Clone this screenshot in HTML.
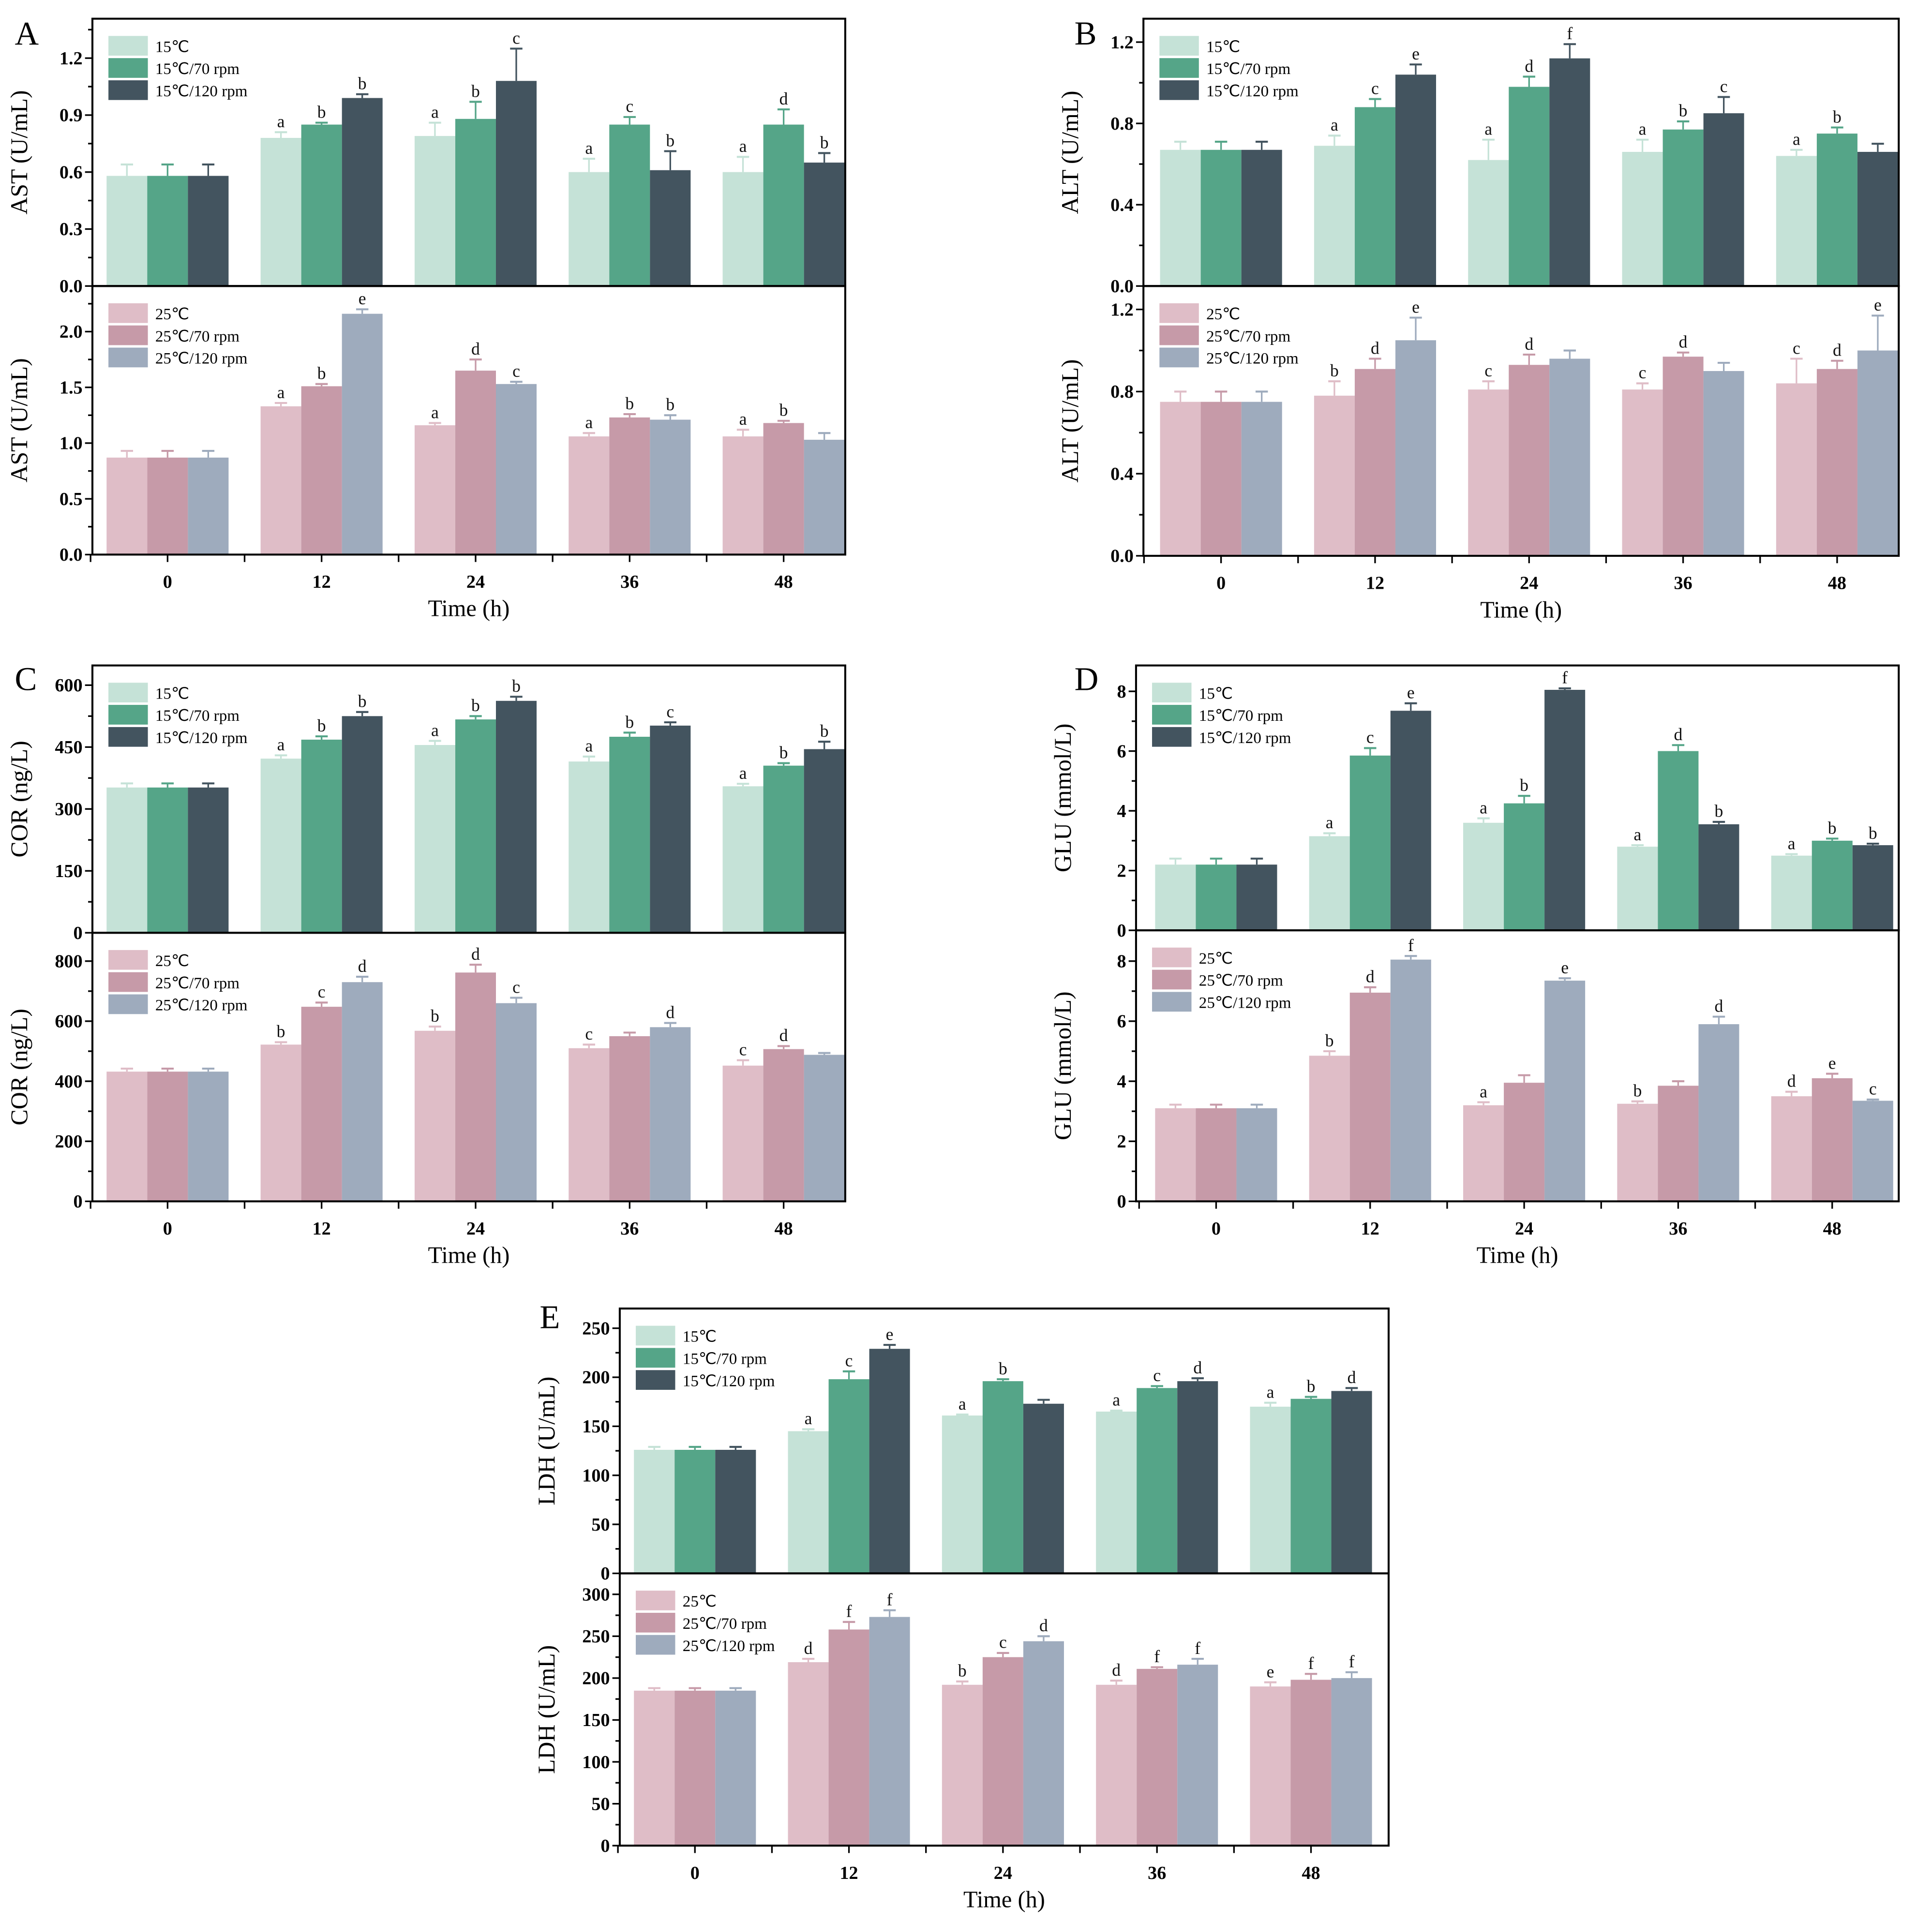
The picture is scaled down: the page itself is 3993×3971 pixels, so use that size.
<!DOCTYPE html>
<html><head><meta charset="utf-8"><style>
html,body{margin:0;padding:0;background:#fff}
svg{display:block;font-family:"Liberation Serif",serif}
</style></head><body>
<svg id="fig" width="3993" height="3971" viewBox="0 0 1568 1559" xmlns="http://www.w3.org/2000/svg"></svg>
<script>
const categories=["0","12","24","36","48"];
// A AST
const astTop15=[0.58,0.78,0.79,0.60,0.60], astTop70=[0.58,0.85,0.88,0.85,0.85], astTop120=[0.58,0.99,1.08,0.61,0.65];
const astTopErr15=[0.06,0.03,0.07,0.07,0.08], astTopErr70=[0.06,0.01,0.09,0.04,0.08], astTopErr120=[0.06,0.02,0.17,0.1,0.05];
const astTopLet=[["","",""],["a","b","b"],["a","b","c"],["a","c","b"],["a","d","b"]];
const astBot25=[0.87,1.33,1.16,1.06,1.06], astBot70=[0.87,1.51,1.65,1.23,1.18], astBot120=[0.87,2.16,1.53,1.21,1.03];
const astBotErr25=[0.06,0.03,0.02,0.03,0.06], astBotErr70=[0.06,0.02,0.1,0.03,0.02], astBotErr120=[0.06,0.04,0.02,0.04,0.06];
const astBotLet=[["","",""],["a","b","e"],["a","d","c"],["a","b","b"],["a","b",""]];
// B ALT
const altTop15=[0.67,0.69,0.62,0.66,0.64], altTop70=[0.67,0.88,0.98,0.77,0.75], altTop120=[0.67,1.04,1.12,0.85,0.66];
const altTopErr15=[0.04,0.05,0.1,0.06,0.03], altTopErr70=[0.04,0.04,0.05,0.04,0.03], altTopErr120=[0.04,0.05,0.07,0.08,0.04];
const altTopLet=[["","",""],["a","c","e"],["a","d","f"],["a","b","c"],["a","b",""]];
const altBot25=[0.75,0.78,0.81,0.81,0.84], altBot70=[0.75,0.91,0.93,0.97,0.91], altBot120=[0.75,1.05,0.96,0.90,1.00];
const altBotErr25=[0.05,0.07,0.04,0.03,0.12], altBotErr70=[0.05,0.05,0.05,0.02,0.04], altBotErr120=[0.05,0.11,0.04,0.04,0.17];
const altBotLet=[["","",""],["b","d","e"],["c","d",""],["c","d",""],["c","d","e"]];
// C COR
const corTop15=[352,422,455,415,355], corTop70=[352,468,517,475,405], corTop120=[352,525,562,502,445];
const corTopErr15=[10,8,10,12,6], corTopErr70=[10,8,8,10,6], corTopErr120=[10,10,10,8,18];
const corTopLet=[["","",""],["a","b","b"],["a","b","b"],["a","b","c"],["a","b","b"]];
const corBot25=[432,522,568,510,452], corBot70=[432,648,762,550,507], corBot120=[432,730,660,580,488];
const corBotErr25=[10,8,14,12,18], corBotErr70=[10,14,26,12,10], corBotErr120=[10,18,18,14,6];
const corBotLet=[["","",""],["b","c","d"],["b","d","c"],["c","","d"],["c","d",""]];
// D GLU
const gluTop15=[2.2,3.15,3.6,2.8,2.5], gluTop70=[2.2,5.85,4.25,6.0,3.0], gluTop120=[2.2,7.35,8.05,3.55,2.85];
const gluTopErr15=[0.2,0.1,0.15,0.05,0.05], gluTopErr70=[0.2,0.25,0.25,0.2,0.07], gluTopErr120=[0.2,0.25,0.05,0.08,0.05];
const gluTopLet=[["","",""],["a","c","e"],["a","b","f"],["a","d","b"],["a","b","b"]];
const gluBot25=[3.1,4.85,3.2,3.25,3.5], gluBot70=[3.1,6.95,3.95,3.85,4.1], gluBot120=[3.1,8.05,7.35,5.9,3.35];
const gluBotErr25=[0.12,0.15,0.1,0.08,0.15], gluBotErr70=[0.12,0.18,0.25,0.15,0.15], gluBotErr120=[0.12,0.12,0.08,0.25,0.04];
const gluBotLet=[["","",""],["b","d","f"],["a","","e"],["b","","d"],["d","e","c"]];
// E LDH
const ldhTop15=[126,145,161,165,170], ldhTop70=[126,198,196,189,178], ldhTop120=[126,229,173,196,186];
const ldhTopErr15=[3,2,1,1,4], ldhTopErr70=[3,8,2,2,2], ldhTopErr120=[3,4,4,3,3];
const ldhTopLet=[["","",""],["a","c","e"],["a","b",""],["a","c","d"],["a","b","d"]];
const ldhBot25=[185,219,192,192,190], ldhBot70=[185,258,225,211,198], ldhBot120=[185,273,244,216,200];
const ldhBotErr25=[3,4,4,5,5], ldhBotErr70=[3,9,5,2,7], ldhBotErr120=[3,8,6,7,7];
const ldhBotLet=[["","",""],["d","f","f"],["b","c","d"],["d","f","f"],["e","f","f"]];

const C15=["#c5e2d7","#55a588","#43545f"], C25=["#dfbdc7","#c69aa8","#9eabbd"];
const L15=["15℃","15℃/70 rpm","15℃/120 rpm"], L25=["25℃","25℃/70 rpm","25℃/120 rpm"];
const svg=document.getElementById('fig');const NS="http://www.w3.org/2000/svg";
function el(t,a,p){const e=document.createElementNS(NS,t);for(const k in a)e.setAttribute(k,a[k]);(p||svg).appendChild(e);return e;}
function txt(s,a,p){const e=el('text',a,p);e.textContent=s;return e;}

function panel(o){
  const g=el('g',{});
  
  
  const k=(o.bottom-o.top)/o.max;
  const yS=v=>o.bottom-v*k;
  const xC=i=>o.left+o.off+i*125;
  const bw=33;
  const series=[o.s1,o.s2,o.s3],errs=[o.e1,o.e2,o.e3];
  for(let s=0;s<3;s++){for(let i=0;i<5;i++){
    const x=xC(i)-1.5*bw+s*bw, v=series[s][i], y=yS(v), ey=yS(v+errs[s][i]);
    const r=el('rect',{x:x,y:y,width:bw,height:o.bottom-y,fill:o.col[s]},g);
    
    
    el('line',{x1:x+bw/2,x2:x+bw/2,y1:y,y2:ey,stroke:o.col[s],'stroke-width':1.3},g);
    el('line',{x1:x+bw/2-5,x2:x+bw/2+5,y1:ey,y2:ey,stroke:o.col[s],'stroke-width':1.6},g);
    const l=o.let[i][s];
    if(l){const t=txt(l,{x:x+bw/2,y:ey-4,'font-size':14,'text-anchor':'middle',fill:'#111'},g);
      
      }
  }}
  el('rect',{x:o.left,y:o.top,width:o.right-o.left,height:o.bottom-o.top,fill:'none',stroke:'#000','stroke-width':1.6},g);
  for(let v=0;v<=o.max+1e-9;v+=o.step/2){
    const y=yS(v);if(y<o.top+2)break;
    const major=Math.abs(Math.round(v/o.step)*o.step-v)<1e-9;
    el('line',{x1:o.left,x2:o.left-(major?6:3.5),y1:y,y2:y,stroke:'#000','stroke-width':1.3},g);
    if(major){const t=txt(o.fmt(v),{x:o.left-8,y:y+5,'font-size':15,'font-weight':'bold','text-anchor':'end'},g);
      
      }
  }
  const yt=txt(o.ytitle,{x:0,y:0,'font-size':19.5,'text-anchor':'middle',transform:`translate(${o.left-53},${(o.top+o.bottom)/2}) rotate(-90)`},g);
  
  
  for(let s=0;s<3;s++){
    const ly=o.top+15+s*18;
    const r=el('rect',{x:o.left+13,y:ly-1,width:32,height:16,fill:o.col[s]},g);
    
    
    const t=txt(o.lab[s],{x:o.left+51,y:ly+12,'font-size':13},g);
    
    
  }
  if(o.xaxis){
    for(let i=0;i<5;i++){
      el('line',{x1:xC(i),x2:xC(i),y1:o.bottom,y2:o.bottom+6,stroke:'#000','stroke-width':1.3},g);
      if(i<4)el('line',{x1:xC(i)+62.5,x2:xC(i)+62.5,y1:o.bottom,y2:o.bottom+6,stroke:'#000','stroke-width':1.3},g);
      if(i==0)el('line',{x1:xC(i)-62.5,x2:xC(i)-62.5,y1:o.bottom,y2:o.bottom+6,stroke:'#000','stroke-width':1.3},g);
      const t=txt(categories[i],{x:xC(i),y:o.bottom+27,'font-size':15,'font-weight':'bold','text-anchor':'middle'},g);
      
      
    }
    const t=txt('Time (h)',{x:(o.left+o.right)/2,y:o.bottom+50,'font-size':19,'text-anchor':'middle'},g);
    
    
  }
}
const f1=v=>v.toFixed(1), f0=v=>String(Math.round(v));
function pl(letter,x,y){const t=txt(letter,{x:x,y:y,'font-size':27});}
panel({name:'ast-15',left:75,right:686,top:15,bottom:232,off:61,max:1.2*217/185,step:0.3,fmt:f1,ytitle:'AST (U/mL)',s1:astTop15,s2:astTop70,s3:astTop120,e1:astTopErr15,e2:astTopErr70,e3:astTopErr120,let:astTopLet,col:C15,lab:L15});
panel({name:'ast-25',left:75,right:686,top:232,bottom:450,off:61,max:2.0*218/181,step:0.5,fmt:f1,ytitle:'AST (U/mL)',s1:astBot25,s2:astBot70,s3:astBot120,e1:astBotErr25,e2:astBotErr70,e3:astBotErr120,let:astBotLet,col:C25,lab:L25,xaxis:1});
pl('A',12,36);
panel({name:'alt-15',left:928,right:1541,top:15,bottom:232,off:63,max:1.2*217/198,step:0.4,fmt:f1,ytitle:'ALT (U/mL)',s1:altTop15,s2:altTop70,s3:altTop120,e1:altTopErr15,e2:altTopErr70,e3:altTopErr120,let:altTopLet,col:C15,lab:L15});
panel({name:'alt-25',left:928,right:1541,top:232,bottom:451,off:63,max:1.2*219/200,step:0.4,fmt:f1,ytitle:'ALT (U/mL)',s1:altBot25,s2:altBot70,s3:altBot120,e1:altBotErr25,e2:altBotErr70,e3:altBotErr120,let:altBotLet,col:C25,lab:L25,xaxis:1});
pl('B',872,36);
panel({name:'cor-15',left:75,right:686,top:540,bottom:757,off:61,max:600*217/201,step:150,fmt:f0,ytitle:'COR (ng/L)',s1:corTop15,s2:corTop70,s3:corTop120,e1:corTopErr15,e2:corTopErr70,e3:corTopErr120,let:corTopLet,col:C15,lab:L15});
panel({name:'cor-25',left:75,right:686,top:757,bottom:975,off:61,max:800*218/195,step:200,fmt:f0,ytitle:'COR (ng/L)',s1:corBot25,s2:corBot70,s3:corBot120,e1:corBotErr25,e2:corBotErr70,e3:corBotErr120,let:corBotLet,col:C25,lab:L25,xaxis:1});
pl('C',12,560);
panel({name:'glu-15',left:922,right:1541,top:540,bottom:755,off:65,max:8*215/194,step:2,fmt:f0,ytitle:'GLU (mmol/L)',s1:gluTop15,s2:gluTop70,s3:gluTop120,e1:gluTopErr15,e2:gluTopErr70,e3:gluTopErr120,let:gluTopLet,col:C15,lab:L15});
panel({name:'glu-25',left:922,right:1541,top:755,bottom:975,off:65,max:8*220/195,step:2,fmt:f0,ytitle:'GLU (mmol/L)',s1:gluBot25,s2:gluBot70,s3:gluBot120,e1:gluBotErr25,e2:gluBotErr70,e3:gluBotErr120,let:gluBotLet,col:C25,lab:L25,xaxis:1});
pl('D',872,560);
panel({name:'ldh-15',left:503,right:1127,top:1062,bottom:1277,off:61,max:250*215/199,step:50,fmt:f0,ytitle:'LDH (U/mL)',s1:ldhTop15,s2:ldhTop70,s3:ldhTop120,e1:ldhTopErr15,e2:ldhTopErr70,e3:ldhTopErr120,let:ldhTopLet,col:C15,lab:L15});
panel({name:'ldh-25',left:503,right:1127,top:1277,bottom:1498,off:61,max:300*221/204,step:50,fmt:f0,ytitle:'LDH (U/mL)',s1:ldhBot25,s2:ldhBot70,s3:ldhBot120,e1:ldhBotErr25,e2:ldhBotErr70,e3:ldhBotErr120,let:ldhBotLet,col:C25,lab:L25,xaxis:1});
pl('E',438,1078);
</script>
</body></html>
